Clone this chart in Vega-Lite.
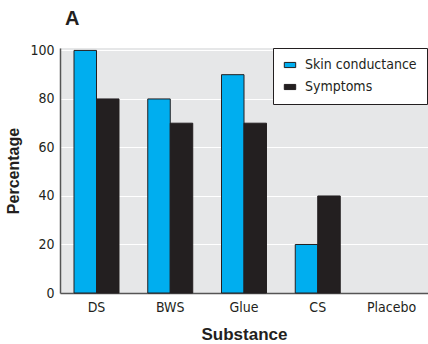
{
  "$schema": "https://vega.github.io/schema/vega-lite/v6.json",
  "autosize": {"type": "none"},
  "width": 368,
  "height": 245,
  "padding": {"left": 60, "top": 48, "right": 0, "bottom": 51},
  "background": "white",
  "title": {"text": "A", "anchor": "start", "frame": "group", "dx": 5, "offset": 14, "fontSize": 20, "fontWeight": "bold", "color": "#231f20", "font": "Liberation Sans"},
  "data": {
    "values": [
      {"substance": "DS", "measure": "Skin conductance", "pct": 100},
      {"substance": "DS", "measure": "Symptoms", "pct": 80},
      {"substance": "BWS", "measure": "Skin conductance", "pct": 80},
      {"substance": "BWS", "measure": "Symptoms", "pct": 70},
      {"substance": "Glue", "measure": "Skin conductance", "pct": 90},
      {"substance": "Glue", "measure": "Symptoms", "pct": 70},
      {"substance": "CS", "measure": "Skin conductance", "pct": 20},
      {"substance": "CS", "measure": "Symptoms", "pct": 40},
      {"substance": "Placebo", "measure": "Skin conductance", "pct": 0},
      {"substance": "Placebo", "measure": "Symptoms", "pct": 0}
    ]
  },
  "mark": {"type": "bar", "stroke": "#231f20", "strokeWidth": 1},
  "encoding": {
    "x": {
      "field": "substance", "type": "nominal", "sort": ["DS", "BWS", "Glue", "CS", "Placebo"],
      "scale": {"paddingInner": 0.39, "paddingOuter": 0.19},
      "title": "Substance",
      "axis": {"labelAngle": 0, "ticks": false, "labelPadding": 7, "titlePadding": 12, "titleFontSize": 17, "labelFontSize": 14}
    },
    "xOffset": {"field": "measure", "type": "nominal", "scale": {"paddingInner": 0, "paddingOuter": 0}},
    "y": {
      "field": "pct", "type": "quantitative", "scale": {"domain": [0, 101], "nice": false},
      "title": "Percentage",
      "axis": {"values": [0, 20, 40, 60, 80, 100], "ticks": false, "labelPadding": 6, "titlePadding": 8, "titleFontSize": 16, "labelFontSize": 14}
    },
    "strokeOpacity": {"condition": {"test": "datum.pct == 0", "value": 0}, "value": 1},
    "color": {
      "field": "measure", "type": "nominal",
      "scale": {"domain": ["Skin conductance", "Symptoms"], "range": ["#00aeef", "#231f20"]},
      "legend": {
        "title": null, "orient": "none", "legendX": 213, "legendY": 0,
        "fillColor": "white", "strokeColor": "#231f20", "padding": 10, "rowPadding": 8,
        "labelFontSize": 14, "labelColor": "#231f20",
        "symbolType": "M-1,-0.45H1V0.45H-1Z", "symbolSize": 130, "symbolStrokeColor": "#231f20", "symbolStrokeWidth": 1, "symbolOffset": 0, "labelOffset": 8
      }
    }
  },
  "config": {
    "font": "DejaVu Sans Condensed",
    "view": {"fill": "#e6e7e8", "stroke": null},
    "axis": {
      "labelFont": "DejaVu Sans Condensed", "titleFont": "Liberation Sans", "titleFontWeight": "bold",
      "labelColor": "#231f20", "titleColor": "#231f20",
      "domainColor": "#555555", "domainWidth": 1.5,
      "gridColor": "white", "gridWidth": 1.2
    },
    "axisX": {"grid": false},
    "legend": {"labelFont": "DejaVu Sans Condensed"}
  }
}
